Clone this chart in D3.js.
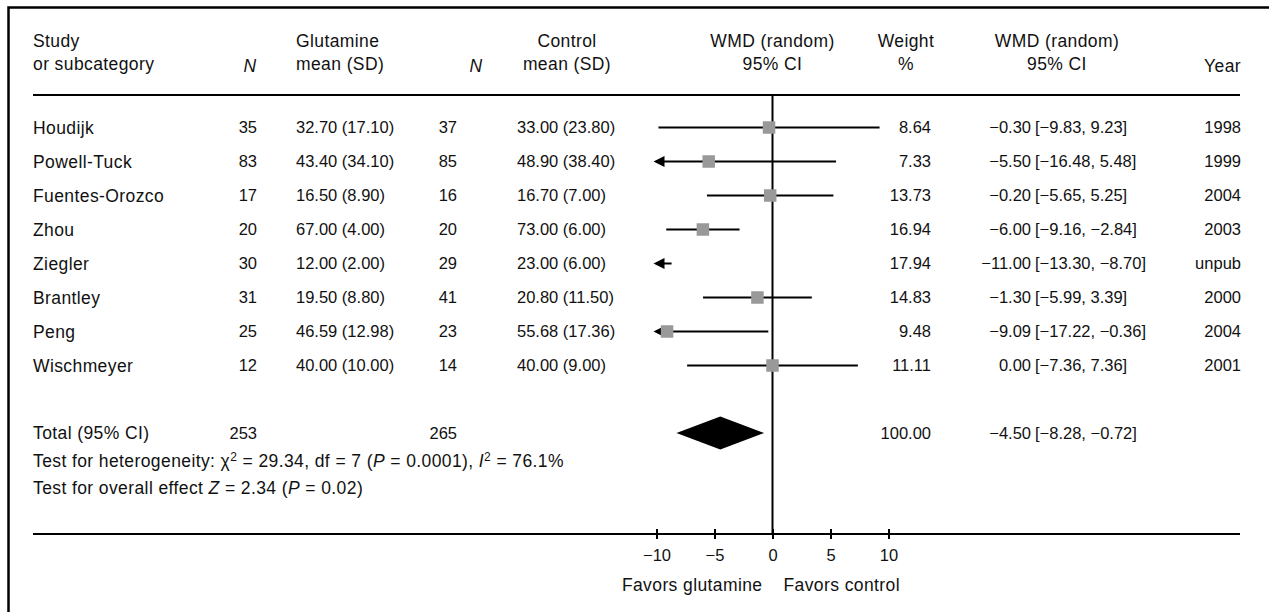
<!DOCTYPE html>
<html>
<head>
<meta charset="utf-8">
<script src="https://cdn.jsdelivr.net/npm/d3@7"></script>
<style>
  html, body { margin: 0; padding: 0; background: #fff; }
  svg text { font-family: "Liberation Sans", Arial, Helvetica, sans-serif; font-size: 17.5px; fill: #111; letter-spacing: 0.4px; }
  svg text.num { font-size: 16.5px; letter-spacing: 0px; }
</style>
</head>
<body>
<svg id="chart" width="1269" height="612"></svg>
<script>
// ---- data ----
const studies   = ["Houdijk", "Powell-Tuck", "Fuentes-Orozco", "Zhou", "Ziegler", "Brantley", "Peng", "Wischmeyer"];
const nGlut     = [35, 83, 17, 20, 30, 31, 25, 12];
const glutMean  = [32.70, 43.40, 16.50, 67.00, 12.00, 19.50, 46.59, 40.00];
const glutSD    = [17.10, 34.10, 8.90, 4.00, 2.00, 8.80, 12.98, 10.00];
const nCtrl     = [37, 85, 16, 20, 29, 41, 23, 14];
const ctrlMean  = [33.00, 48.90, 16.70, 73.00, 23.00, 20.80, 55.68, 40.00];
const ctrlSD    = [23.80, 38.40, 7.00, 6.00, 6.00, 11.50, 17.36, 9.00];
const weights   = [8.64, 7.33, 13.73, 16.94, 17.94, 14.83, 9.48, 11.11];
const wmd       = [-0.30, -5.50, -0.20, -6.00, -11.00, -1.30, -9.09, 0.00];
const ciLow     = [-9.83, -16.48, -5.65, -9.16, -13.30, -5.99, -17.22, -7.36];
const ciHigh    = [9.23, 5.48, 5.25, -2.84, -8.70, 3.39, -0.36, 7.36];
const years     = ["1998", "1999", "2004", "2003", "unpub", "2000", "2004", "2001"];
const totalN    = [253, 265];
const totalWeight = 100.00;
const totalEst  = [-4.50, -8.28, -0.72];   // estimate, low, high
const axisTicks = [-10, -5, 0, 5, 10];
const axisLabels = ["Favors glutamine", "Favors control"];

// ---- layout ----
const svg = d3.select("#chart");
const f2 = d3.format(".2f");
const x = d3.scaleLinear().domain([-10, 10]).range([656.5, 888.5]);
const y = d3.scalePoint().domain(studies).range([127.5, 365.5]);
const col = { study: 33, n1: 257, glut: 296, n2: 457, ctrl: 517, weight: 931, est: 1031, ci: 1035, year: 1241 };
const lineL = 33, lineR = 1240, headY = 95, axisY = 534, totalY = 433;

// frame (left and top edges)
svg.append("path").attr("d", `M8.5,612 L8.5,7.5 L1269,7.5`)
  .attr("fill", "none").attr("stroke", "#000").attr("stroke-width", 2.5);

// header
function hdr(xp, yp, txt, anchor, italic) {
  const t = svg.append("text").attr("x", xp).attr("y", yp).attr("text-anchor", anchor || "start").text(txt);
  if (italic) t.style("font-style", "italic");
  return t;
}
hdr(col.study, 46.5, "Study");
hdr(col.study, 69.5, "or subcategory");
hdr(250, 72, "N", "middle", true);
hdr(col.glut, 46.5, "Glutamine");
hdr(col.glut, 69.5, "mean (SD)");
hdr(476, 72, "N", "middle", true);
hdr(567, 46.5, "Control", "middle");
hdr(567, 69.5, "mean (SD)", "middle");
hdr(x(0), 46.5, "WMD (random)", "middle");
hdr(x(0), 69.5, "95% CI", "middle");
hdr(906, 46.5, "Weight", "middle");
hdr(906, 69.5, "%", "middle");
hdr(1057, 46.5, "WMD (random)", "middle");
hdr(1057, 69.5, "95% CI", "middle");
hdr(col.year, 72, "Year", "end");

// horizontal rule under header
svg.append("line").attr("x1", lineL).attr("x2", lineR).attr("y1", headY).attr("y2", headY)
  .attr("stroke", "#000").attr("stroke-width", 2);

// zero line
svg.append("line").attr("x1", x(0)).attr("x2", x(0)).attr("y1", headY).attr("y2", axisY)
  .attr("stroke", "#000").attr("stroke-width", 2);

// rows
const rows = studies.map((s, i) => ({
  s, i, n1: nGlut[i], gm: glutMean[i], gs: glutSD[i], n2: nCtrl[i], cm: ctrlMean[i], cs: ctrlSD[i],
  w: weights[i], e: wmd[i], lo: ciLow[i], hi: ciHigh[i], yr: years[i]
}));
const g = svg.append("g");
const rg = g.selectAll("g.row").data(rows).join("g").attr("class", "row")
  .attr("transform", d => `translate(0,${y(d.s)})`);

function cell(sel, xp, anchor, fn, cls) {
  sel.append("text").attr("class", cls || null).attr("x", xp).attr("dy", "0.36em").attr("text-anchor", anchor).text(fn);
}
cell(rg, col.study, "start", d => d.s);
cell(rg, col.n1, "end", d => d.n1, "num");
cell(rg, col.glut, "start", d => `${f2(d.gm)} (${f2(d.gs)})`, "num");
cell(rg, col.n2, "end", d => d.n2, "num");
cell(rg, col.ctrl, "start", d => `${f2(d.cm)} (${f2(d.cs)})`, "num");
cell(rg, col.weight, "end", d => f2(d.w), "num");
cell(rg, col.est, "end", d => f2(d.e), "num");
cell(rg, col.ci, "start", d => `[${f2(d.lo)}, ${f2(d.hi)}]`, "num");
cell(rg, col.year, "end", d => d.yr, "num");

// CI lines (clipped to the axis range, arrows where clipped)
const [dMin, dMax] = x.domain();
rg.append("line")
  .attr("x1", d => x(Math.max(d.lo, dMin)))
  .attr("x2", d => x(Math.min(d.hi, dMax)))
  .attr("stroke", "#000").attr("stroke-width", 2);
rg.filter(d => d.lo < dMin).append("path")
  .attr("d", () => { const t = x(dMin) - 3; return `M${t},0 L${t + 11},-5.5 L${t + 11},5.5 Z`; })
  .attr("fill", "#000");
rg.filter(d => d.hi > dMax).append("path")
  .attr("d", () => { const t = x(dMax) + 3; return `M${t},0 L${t - 11},-5.5 L${t - 11},5.5 Z`; })
  .attr("fill", "#000");
// squares
const sq = 12.5;
rg.filter(d => d.e >= dMin && d.e <= dMax).append("rect")
  .attr("x", d => x(d.e) - sq / 2).attr("y", -sq / 2)
  .attr("width", sq).attr("height", sq).attr("fill", "#999");

// total row
const tg = svg.append("g").attr("transform", `translate(0,${totalY})`);
cell(tg, col.study, "start", "Total (95% CI)");
cell(tg, col.n1, "end", totalN[0], "num");
cell(tg, col.n2, "end", totalN[1], "num");
cell(tg, col.weight, "end", f2(totalWeight), "num");
cell(tg, col.est, "end", f2(totalEst[0]), "num");
cell(tg, col.ci, "start", `[${f2(totalEst[1])}, ${f2(totalEst[2])}]`, "num");
tg.append("path")
  .attr("d", `M${x(totalEst[1])},0 L${x(totalEst[0])},-16.5 L${x(totalEst[2])},0 L${x(totalEst[0])},16.5 Z`)
  .attr("fill", "#000");

// test statistics
const het = svg.append("text").attr("x", col.study).attr("y", 467);
het.append("tspan").text("Test for heterogeneity: χ");
het.append("tspan").attr("dy", -6).style("font-size", "12px").text("2");
het.append("tspan").attr("dy", 6).text(" = 29.34, df = 7 (");
het.append("tspan").style("font-style", "italic").text("P");
het.append("tspan").text(" = 0.0001), ");
het.append("tspan").style("font-style", "italic").text("I");
het.append("tspan").attr("dy", -6).style("font-size", "12px").text("2");
het.append("tspan").attr("dy", 6).text(" = 76.1%");

const ov = svg.append("text").attr("x", col.study).attr("y", 494);
ov.append("tspan").text("Test for overall effect ");
ov.append("tspan").style("font-style", "italic").text("Z");
ov.append("tspan").text(" = 2.34 (");
ov.append("tspan").style("font-style", "italic").text("P");
ov.append("tspan").text(" = 0.02)");

// axis
svg.append("line").attr("x1", lineL).attr("x2", lineR).attr("y1", axisY).attr("y2", axisY)
  .attr("stroke", "#000").attr("stroke-width", 2);
const ax = svg.append("g").attr("transform", `translate(0,${axisY - 5})`)
  .call(d3.axisBottom(x).tickValues(axisTicks).tickSize(10).tickPadding(10).tickFormat(d3.format("d")));
ax.select(".domain").remove();
ax.selectAll(".tick line").attr("stroke", "#000").attr("stroke-width", 2);
ax.selectAll(".tick text").attr("class", "num").attr("fill", "#111")
  .style("font-family", "\"Liberation Sans\", Arial, sans-serif").style("font-size", "16.5px");

svg.append("text").attr("x", x(0) - 10).attr("y", 591).attr("text-anchor", "end").text(axisLabels[0]);
svg.append("text").attr("x", x(0) + 11).attr("y", 591).attr("text-anchor", "start").text(axisLabels[1]);
</script>
</body>
</html>
